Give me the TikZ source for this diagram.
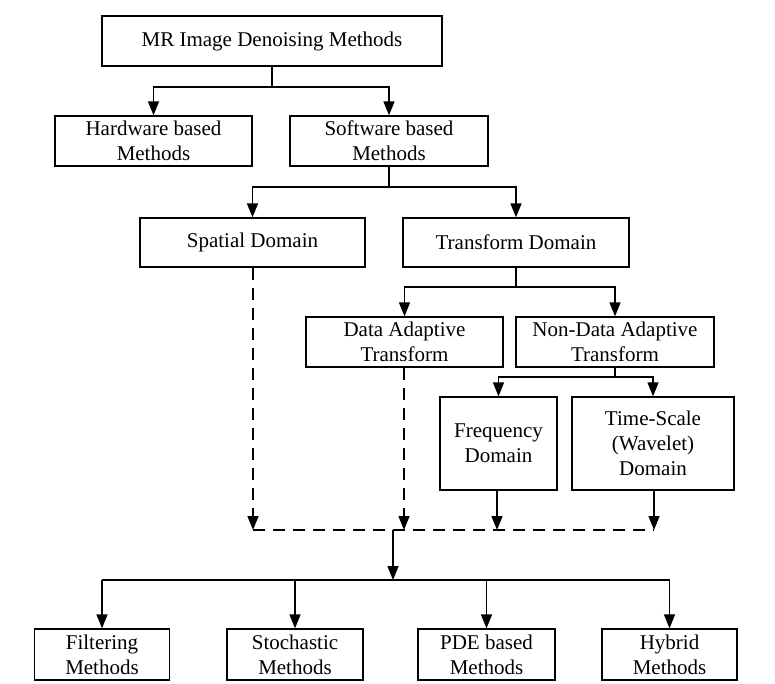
\documentclass[tikz,border=0pt]{standalone}
\usepackage{fontspec}
\setmainfont{Liberation Serif}
\usetikzlibrary{arrows.meta}
\begin{document}
\begin{tikzpicture}[x=1pt,y=-1pt,
  box/.style={draw,line width=1.3pt,inner sep=0pt,align=center,
    font=\fontsize{21}{25}\selectfont},
  conn/.style={line width=1.5pt},
  arr/.style={line width=1.5pt,-{Triangle[width=11pt,length=14pt]}},
  darr/.style={arr,dash pattern=on 12pt off 8pt},
  dline/.style={line width=1.5pt,dash pattern=on 12pt off 8pt}]
\useasboundingbox (0,0) rectangle (775,684);
\node[box,minimum width=340pt,minimum height=50pt] (top) at (272,41) {MR Image Denoising Methods};
\node[box,minimum width=197pt,minimum height=50pt] (hw) at (153.5,141) {Hardware based\\Methods};
\node[box,minimum width=198pt,minimum height=50pt] (sw) at (389,141) {Software based\\Methods};
\node[box,minimum width=225pt,minimum height=49pt] (sp) at (252.5,242.5) {Spatial Domain};
\node[box,minimum width=226pt,minimum height=49pt] (tr) at (516,242.5) {Transform Domain};
\node[box,minimum width=197pt,minimum height=50pt] (da) at (404.5,342) {Data Adaptive\\Transform};
\node[box,minimum width=198pt,minimum height=50pt] (nda) at (615,342) {Non-Data Adaptive\\Transform};
\node[box,minimum width=117pt,minimum height=93pt] (fr) at (498.5,443.5) {Frequency\\Domain};
\node[box,minimum width=162pt,minimum height=93pt] (ts) at (653,443.5) {Time-Scale\\(Wavelet)\\Domain};
\node[box,minimum width=135pt,minimum height=51pt] (fi) at (102,654.5) {Filtering\\Methods};
\node[box,minimum width=136pt,minimum height=51pt] (st) at (295,654.5) {Stochastic\\Methods};
\node[box,minimum width=137pt,minimum height=51pt] (pde) at (486.5,654.5) {PDE based\\Methods};
\node[box,minimum width=135pt,minimum height=51pt] (hy) at (669.5,654.5) {Hybrid\\Methods};
\coordinate (j1) at (272,87);
\coordinate (j2) at (389,187);
\coordinate (j3) at (516,287);
\coordinate (j4) at (615,377);
\coordinate (m1) at (253,530);
\coordinate (m2) at (404,530);
\coordinate (m3) at (497,530);
\coordinate (m4) at (654,530);
\coordinate (mc) at (393,530);
\coordinate (j5) at (393,580);
\draw[conn] (top.south) -- (j1);
\draw[arr] (j1) -| (hw.north);
\draw[arr] (j1) -| (sw.north);
\draw[conn] (sw.south) -- (j2);
\draw[arr] (j2) -| (sp.north);
\draw[arr] (j2) -| (tr.north);
\draw[conn] (tr.south) -- (j3);
\draw[arr] (j3) -| (da.north);
\draw[arr] (j3) -| (nda.north);
\draw[conn] (nda.south) -- (j4);
\draw[arr] (j4) -| (fr.north);
\draw[arr] (j4) -| (ts.north);
\draw[darr] (sp.south -| m1) -- (m1);
\draw[darr] (da.south -| m2) -- (m2);
\draw[arr] (fr.south -| m3) -- (m3);
\draw[arr] (ts.south -| m4) -- (m4);
\draw[dline] (m1) -- (m4);
\draw[arr] (mc) -- (j5);
\draw[conn] (fi.north |- j5) -- (hy.north |- j5);
\draw[arr] (fi.north |- j5) -- (fi.north);
\draw[arr] (st.north |- j5) -- (st.north);
\draw[arr] (pde.north |- j5) -- (pde.north);
\draw[arr] (hy.north |- j5) -- (hy.north);
\end{tikzpicture}
\end{document}
